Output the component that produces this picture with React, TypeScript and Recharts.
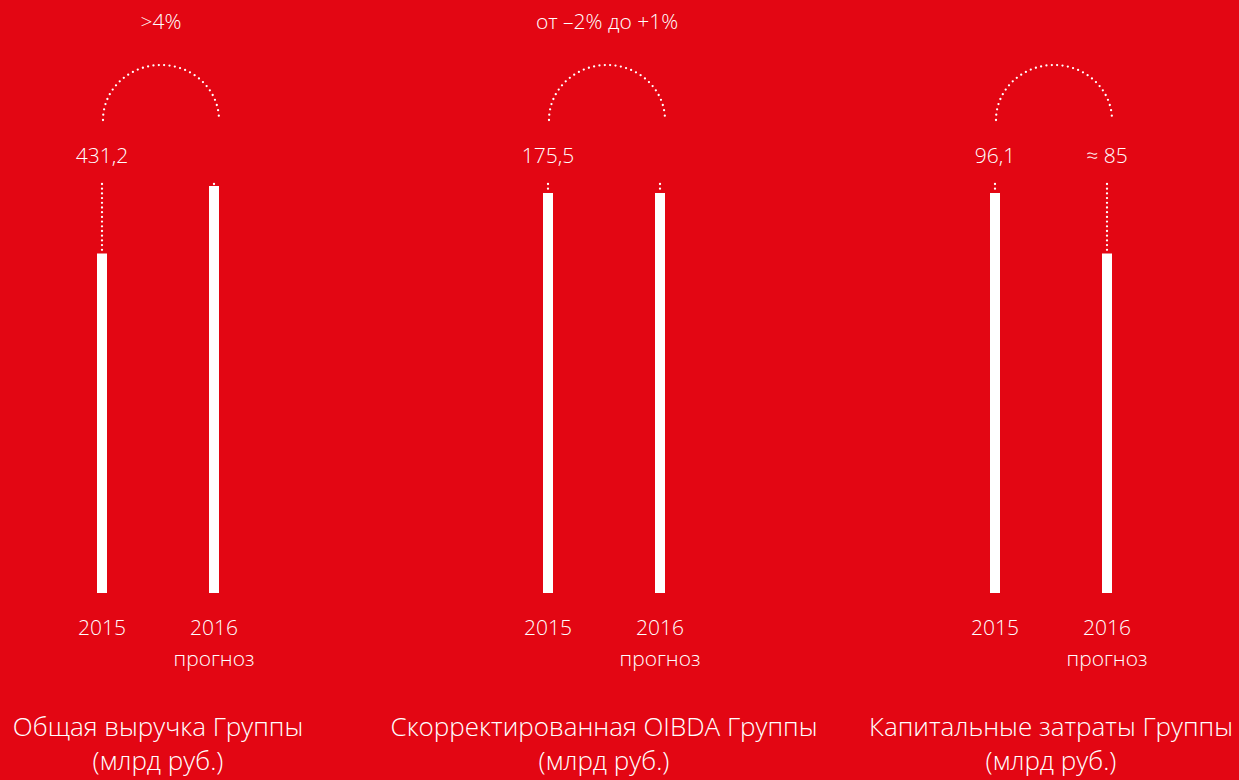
import React from "react";
import { BarChart, Bar, XAxis, YAxis, LabelList } from "recharts";

const years = ["2015", "2016"];
const yearNotes = ["", "прогноз"];
const titles = ["Общая выручка Группы", "Скорректированная OIBDA Группы", "Капитальные затраты Группы"];
const unitLabel = "(млрд руб.)";
const changeLabels = [">4%", "от –2% до +1%", ""];
const revenueLabels = ["431,2", ""];
const oibdaLabels = ["175,5", ""];
const capexLabels = ["96,1", "≈ 85"];
// bar heights as drawn, in % of the dotted guide height
const revenueBars = [83, 99.5];
const oibdaBars = [97.8, 97.8];
const capexBars = [97.8, 83];

const RED = "#E30613";
const FONT = "'Open Sans', 'Noto Sans', sans-serif";

const panels = [
  { bars: revenueBars, labels: revenueLabels, change: changeLabels[0], title: titles[0], left: 8 },
  { bars: oibdaBars, labels: oibdaLabels, change: changeLabels[1], title: titles[1], left: 454 },
  { bars: capexBars, labels: capexLabels, change: changeLabels[2], title: titles[2], left: 901 },
];

const DottedGap = (props: any) => {
  const { x, y, width, height } = props;
  const cx = x + width / 2;
  return (
    <line
      x1={cx}
      x2={cx}
      y1={y}
      y2={y + Math.max(height, 0.5)}
      stroke="#fff"
      strokeWidth={2.3}
      strokeLinecap="round"
      strokeDasharray="0 4.7"
    />
  );
};

const YearTick = (props: any) => {
  const { x, y, payload, index } = props;
  return (
    <g>
      <text x={x} y={y + 34} textAnchor="middle" fill="#fff" fontSize={21} fontFamily={FONT} fontWeight={300}>
        {payload.value}
      </text>
      {yearNotes[index] && (
        <text x={x} y={y + 65} textAnchor="middle" fill="#fff" fontSize={21} fontFamily={FONT} fontWeight={300}>
          {yearNotes[index]}
        </text>
      )}
    </g>
  );
};

function Panel({ bars, labels, change, left }: any) {
  const data = years.map((year, i) => ({ year, value: bars[i], gap: 100 - bars[i], label: labels[i] }));
  const seen: { x?: number } = {};

  // value labels above the dotted guides, plus the dotted arc between the two bars
  const topContent = (p: any) => {
    const { x, y, width, index, value } = p;
    const cx = x + width / 2;
    const out: React.ReactNode[] = [];
    if (value) {
      out.push(
        <text key="v" x={cx} y={y - 21} textAnchor="middle" fill="#fff" fontSize={21} fontFamily={FONT} fontWeight={300}>
          {value}
        </text>
      );
    }
    if (index === 0) {
      seen.x = cx;
    } else if (seen.x !== undefined) {
      const x1 = seen.x + 1;
      const x2 = cx + 5;
      const base = y - 64;
      const rx = (x2 - x1) / 2;
      const ry = 55;
      out.push(
        <path
          key="arc"
          d={`M${x1},${base} A${rx},${ry} 0 0 1 ${x2},${base}`}
          fill="none"
          stroke="#fff"
          strokeWidth={2.3}
          strokeLinecap="round"
          strokeDasharray="0 5.4"
        />
      );
      if (change) {
        out.push(
          <text key="c" x={(x1 + x2) / 2} y={29} textAnchor="middle" fill="#fff" fontSize={21} fontFamily={FONT} fontWeight={300}>
            {change}
          </text>
        );
      }
    }
    return <g>{out}</g>;
  };

  return (
    <div style={{ position: "absolute", left, top: 0 }}>
      <BarChart width={300} height={700} data={data} margin={{ top: 184, right: 38, bottom: 0, left: 38 }}>
        <XAxis dataKey="year" axisLine={false} tickLine={false} height={107} tick={<YearTick />} interval={0} />
        <YAxis hide domain={[0, 100]} />
        <Bar dataKey="value" stackId="a" fill="#fff" barSize={10} isAnimationActive={false} />
        <Bar dataKey="gap" stackId="a" barSize={10} shape={<DottedGap />} isAnimationActive={false}>
          <LabelList dataKey="label" content={topContent} />
        </Bar>
      </BarChart>
    </div>
  );
}

export default function App() {
  return (
    <div style={{ position: "relative", width: 1239, height: 780, background: RED, overflow: "hidden", fontFamily: FONT }}>
      <style>{"body{margin:0}"}</style>
      {panels.map((p, i) => (
        <Panel key={i} {...p} />
      ))}
      {panels.map((p, i) => (
        <div
          key={"t" + i}
          style={{
            position: "absolute",
            left: p.left + 150 - 223,
            width: 446,
            top: 709,
            textAlign: "center",
            color: "#fff",
            fontSize: 26,
            fontWeight: 300,
            lineHeight: "34px",
          }}
        >
          <div>{p.title}</div>
          <div>{unitLabel}</div>
        </div>
      ))}
    </div>
  );
}
